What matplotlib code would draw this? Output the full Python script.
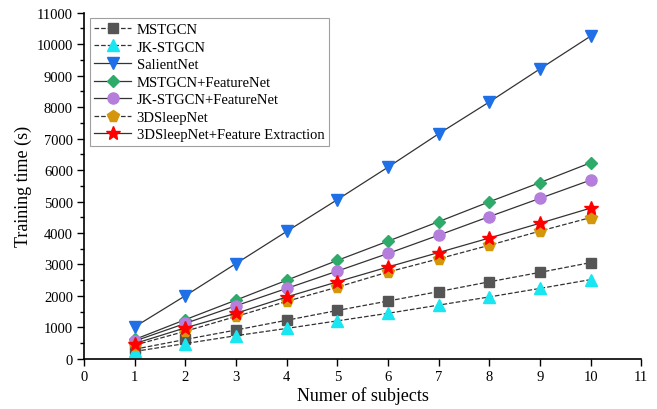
import numpy as np
import matplotlib
matplotlib.use("Agg")
import matplotlib.pyplot as plt
from matplotlib.ticker import MultipleLocator

plt.rcParams["font.family"] = ["Liberation Serif", "DejaVu Serif"]

subjects = [1, 2, 3, 4, 5, 6, 7, 8, 9, 10]

mstgcn = [310, 620, 920, 1230, 1540, 1840, 2140, 2450, 2750, 3060]
jk_stgcn = [240, 490, 740, 970, 1210, 1450, 1710, 1970, 2240, 2520]
salientnet = [1020, 2010, 3030, 4050, 5060, 6090, 7150, 8160, 9210, 10250]
mstgcn_fn = [620, 1250, 1870, 2500, 3130, 3740, 4360, 4990, 5600, 6230]
jk_stgcn_fn = [570, 1130, 1690, 2240, 2790, 3350, 3930, 4520, 5100, 5680]
sleepnet3d = [440, 880, 1350, 1830, 2280, 2760, 3180, 3610, 4060, 4490]
sleepnet3d_fe = [490, 990, 1450, 1970, 2450, 2920, 3380, 3840, 4310, 4790]

series = [
    ("MSTGCN", mstgcn, "s", "#555555", "--"),
    ("JK-STGCN", jk_stgcn, "^", "#19E6F0", "--"),
    ("SalientNet", salientnet, "v", "#1F6FE6", "-"),
    ("MSTGCN+FeatureNet", mstgcn_fn, "D", "#2EAA6A", "-"),
    ("JK-STGCN+FeatureNet", jk_stgcn_fn, "o", "#B57EDC", "-"),
    ("3DSleepNet", sleepnet3d, "p", "#D4960A", "--"),
    ("3DSleepNet+Feature Extraction", sleepnet3d_fe, "*", "#FF0000", "-"),
]

fig = plt.figure(figsize=(6.57, 4.10), dpi=100)
ax = fig.add_axes([0.128, 0.122, 0.848, 0.845])

sizes = {"s": 6.5, "^": 8, "v": 9, "D": 6.5, "o": 8, "p": 8.5, "*": 10.5}
for name, vals, mk, col, ls in series:
    ax.plot(subjects, vals, linestyle=ls, color="#333333", linewidth=0.9,
            marker=mk, markersize=sizes[mk], markerfacecolor=col,
            markeredgecolor=col, label=name)

ax.set_xlim(0, 11)
ax.set_ylim(0, 11000)
ax.xaxis.set_major_locator(MultipleLocator(1))
ax.yaxis.set_major_locator(MultipleLocator(1000))
ax.yaxis.set_minor_locator(MultipleLocator(500))
ax.tick_params(axis="both", which="major", direction="out", length=5, width=1,
               labelsize=10.5, pad=3)
ax.tick_params(axis="y", which="minor", direction="out", length=3, width=1)
ax.spines["top"].set_visible(False)
ax.spines["right"].set_visible(False)
ax.spines["left"].set_linewidth(1.2)
ax.spines["bottom"].set_linewidth(1.2)

ax.set_xlabel("Numer of subjects", fontsize=13, labelpad=2)
ax.set_ylabel("Training time (s)", fontsize=13, labelpad=3)

leg = ax.legend(loc="upper left", fontsize=10.5, frameon=True, fancybox=False,
                edgecolor="#888888", handlelength=2.5, borderpad=0.3,
                labelspacing=0.3, handletextpad=0.4, borderaxespad=0.4)
leg.get_frame().set_linewidth(0.8)

fig.savefig("out.png", dpi=100)
